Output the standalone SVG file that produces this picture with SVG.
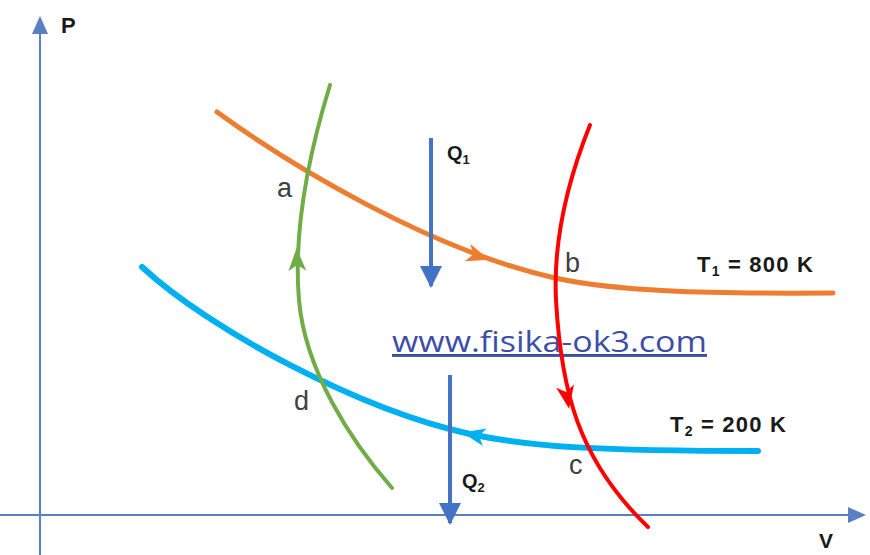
<svg xmlns="http://www.w3.org/2000/svg" width="870" height="555" viewBox="0 0 870 555">
  <style>
    .axis { stroke: #5B7FC2; stroke-width: 2; fill: none; }
    .curve { fill: none; stroke-linecap: round; }
    .qarrow { stroke: #4472C4; stroke-width: 4; fill: none; }
    .pt { font-family: "Liberation Sans", Arial, sans-serif; font-size: 27px; fill: #404040; }
    .lbl { font-family: "Liberation Sans", Arial, sans-serif; font-weight: bold; fill: #1a1a1a; }
    .url { font-family: "Open Sans", "Liberation Sans", sans-serif; font-size: 29px; fill: #3D4FA5; }
  </style>
  <defs>
    <marker id="axhead" markerUnits="userSpaceOnUse" markerWidth="20" markerHeight="20" viewBox="0 0 20 20" refX="16" refY="10" orient="auto">
      <path d="M0,2 L18,10 L0,18 Z" fill="#5B7FC2"/>
    </marker>
    <marker id="qhead" markerUnits="userSpaceOnUse" markerWidth="24" markerHeight="24" viewBox="0 0 24 24" refX="20" refY="12" orient="auto">
      <path d="M0,1 L22,12 L0,23 Z" fill="#4472C4"/>
    </marker>
    <path id="mid" d="M12,0 L-11,-9 L-5,0 L-11,9 Z"/>
  </defs>

  <rect width="870" height="555" fill="#ffffff"/>

  <g id="axes">
    <line class="axis" x1="40" y1="555" x2="40" y2="18" marker-end="url(#axhead)"/>
    <line class="axis" x1="0" y1="515" x2="864" y2="515" marker-end="url(#axhead)"/>
    <text class="lbl" x="61" y="33" font-size="22">P</text>
    <text class="lbl" x="819" y="548" font-size="21">V</text>
  </g>

  <g id="watermark">
    <text class="url" x="392" y="352" textLength="315" lengthAdjust="spacingAndGlyphs" text-decoration="underline">www.fisika-ok3.com</text>
  </g>

  <g id="connectors">
    <g id="isotherm-T1">
      <path class="curve" stroke="#ED7D31" stroke-width="5" d="M217,112 C290,165 430,250 555,278 C615,291 700,294 833,293"/>
      <use href="#mid" fill="#ED7D31" transform="translate(478,256) rotate(18)"/>
    </g>
    <g id="isotherm-T2">
      <path class="curve" stroke="#00B0F0" stroke-width="6" d="M142,267 C210,330 360,410 470,434 C530,447 600,451 758,451"/>
      <use href="#mid" fill="#00B0F0" transform="translate(474,435) rotate(192)"/>
    </g>
    <g id="adiabat-da">
      <path class="curve" stroke="#70AD47" stroke-width="4" d="M330,85 C310,150 293,230 299,300 C305,370 350,440 392,488"/>
      <use href="#mid" fill="#70AD47" transform="translate(297,260) rotate(-92)"/>
    </g>
    <g id="adiabat-bc">
      <path class="curve" stroke="#FF0000" stroke-width="4" d="M590,125 C568,180 553,240 556,300 C561,390 578,460 648,527"/>
      <use href="#mid" fill="#FF0000" transform="translate(567,397) rotate(80)"/>
    </g>
    <g id="Q1-arrow">
      <line class="qarrow" x1="431" y1="138" x2="431" y2="286" marker-end="url(#qhead)"/>
    </g>
    <g id="Q2-arrow">
      <line class="qarrow" x1="450" y1="375" x2="450" y2="523" marker-end="url(#qhead)"/>
    </g>
  </g>

  <g id="point-a"><text class="pt" x="277" y="197">a</text></g>
  <g id="point-b"><text class="pt" x="565" y="272">b</text></g>
  <g id="point-c"><text class="pt" x="569" y="474">c</text></g>
  <g id="point-d"><text class="pt" x="294" y="410">d</text></g>

  <g id="label-Q1"><text class="lbl" x="447" y="160" font-size="20">Q<tspan font-size="13" dy="4">1</tspan></text></g>
  <g id="label-Q2"><text class="lbl" x="462" y="488" font-size="20">Q<tspan font-size="13" dy="4">2</tspan></text></g>
  <g id="label-T1"><text class="lbl" x="697" y="272" font-size="22" letter-spacing="1.2">T<tspan font-size="14" dy="4">1</tspan><tspan dy="-4"> = 800 K</tspan></text></g>
  <g id="label-T2"><text class="lbl" x="670" y="432" font-size="22" letter-spacing="1.2">T<tspan font-size="14" dy="4">2</tspan><tspan dy="-4"> = 200 K</tspan></text></g>
</svg>
